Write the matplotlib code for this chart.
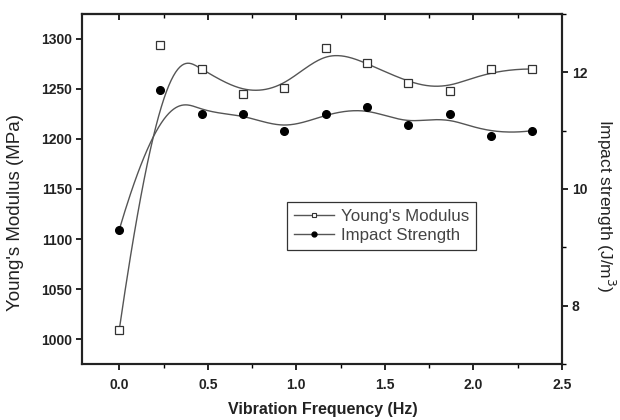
import numpy as np
import matplotlib
matplotlib.use("Agg")
import matplotlib.pyplot as plt
from matplotlib.lines import Line2D
from matplotlib.ticker import MultipleLocator

# ---- data ----
frequency = [0.0, 0.233, 0.467, 0.700, 0.933, 1.167, 1.400, 1.633, 1.867, 2.100, 2.333]
youngs_modulus = [1009, 1294, 1270, 1245, 1251, 1291, 1276, 1256, 1248, 1270, 1270]
impact_strength = [9.30, 11.69, 11.29, 11.29, 11.00, 11.29, 11.40, 11.09, 11.29, 10.91, 11.00]

x_ticks = [0.0, 0.5, 1.0, 1.5, 2.0, 2.5]
y_left_ticks = [1000, 1050, 1100, 1150, 1200, 1250, 1300]
y_right_ticks = [8, 10, 12]


def bspline_curve(xs, ys, k=3, num=500):
    """Clamped uniform B-spline using data points as control points (Origin 'B-Spline' connect)."""
    P = np.column_stack([xs, ys]).astype(float)
    n = len(P)
    inner = np.linspace(0.0, 1.0, n - k + 1)
    t = np.concatenate([np.zeros(k), inner, np.ones(k)])
    us = np.linspace(0.0, 1.0, num)
    out = []
    for u in us:
        if u >= 1.0:
            s = n - 1
        else:
            s = np.searchsorted(t, u, side='right') - 1
        d = [P[j + s - k].copy() for j in range(k + 1)]
        for r in range(1, k + 1):
            for j in range(k, r - 1, -1):
                i = j + s - k
                denom = t[i + k + 1 - r] - t[i]
                a = 0.0 if denom == 0 else (u - t[i]) / denom
                d[j] = (1 - a) * d[j - 1] + a * d[j]
        out.append(d[k])
    out = np.array(out)
    return out[:, 0], out[:, 1]


plt.rcParams['font.family'] = ['Liberation Sans', 'DejaVu Sans']

fig = plt.figure(figsize=(6.2, 4.2), dpi=100)
ax = fig.add_axes([0.1323, 0.1333, 0.7742, 0.8334])
ax2 = ax.twinx()

line_color = '#555555'
text_color = '#222222'

# Young's modulus (left axis)
cx, cy = bspline_curve(frequency, youngs_modulus)
ax.plot(cx, cy, color=line_color, lw=1.0, zorder=2)
ax.plot(frequency, youngs_modulus, ls='none', marker='s', ms=5.5, mfc='white',
        mec='#333333', mew=0.9, zorder=3)

# Impact strength (right axis)
cx2, cy2 = bspline_curve(frequency, impact_strength)
ax2.plot(cx2, cy2, color=line_color, lw=1.0, zorder=2)
ax2.plot(frequency, impact_strength, ls='none', marker='o', ms=5.5, mfc='black',
         mec='black', zorder=3)

ax.set_xlim(-0.21, 2.5)
ax.set_ylim(975, 1325)
ax2.set_ylim(7.0, 13.0)

ax.set_xticks(x_ticks)
ax.set_xticklabels([f"{v:.1f}" for v in x_ticks])
ax.xaxis.set_minor_locator(MultipleLocator(0.25))
ax.set_yticks(y_left_ticks)
ax.set_yticklabels([str(v) for v in y_left_ticks])
ax2.set_yticks(y_right_ticks)
ax2.set_yticklabels([str(v) for v in y_right_ticks])
ax2.yaxis.set_minor_locator(MultipleLocator(1))

for lab in ax.get_xticklabels() + ax.get_yticklabels() + ax2.get_yticklabels():
    lab.set_fontsize(10)
    lab.set_fontweight('bold')
    lab.set_color(text_color)

ax.tick_params(axis='x', which='major', direction='out', length=4, width=1.2, pad=6)
ax.tick_params(axis='x', which='minor', direction='out', length=3, width=1.0)
ax.tick_params(axis='y', which='major', direction='out', length=4, width=1.2, pad=3)
ax2.tick_params(axis='y', which='major', direction='out', length=4, width=1.2, pad=3)
ax2.tick_params(axis='y', which='minor', direction='out', length=3, width=1.0)

# top axis: inward ticks, no labels
top = ax.secondary_xaxis('top')
top.set_xticks(x_ticks)
top.xaxis.set_minor_locator(MultipleLocator(0.25))
top.tick_params(axis='x', which='major', direction='in', length=4, width=1.2, labeltop=False)
top.tick_params(axis='x', which='minor', direction='in', length=3, width=1.0)
top.spines['top'].set_linewidth(1.5)
top.spines['top'].set_color(text_color)

for a in (ax, ax2):
    for sp in a.spines.values():
        sp.set_linewidth(1.5)
        sp.set_color(text_color)

# axis titles placed at the reference positions
fig.text(0.521, 0.024, 'Vibration Frequency (Hz)', fontsize=11.5, fontweight='bold',
         color=text_color, ha='center', va='center')
fig.text(0.025, 0.493, "Young's Modulus (MPa)", fontsize=13.5, color=text_color,
         ha='center', va='center', rotation=90)
fig.text(0.977, 0.51, 'Impact strength (J/m$^3$)', fontsize=12.5, color=text_color,
         ha='center', va='center', rotation=270)

handles = [
    Line2D([], [], color=line_color, lw=1.0, marker='s', ms=3.5, mfc='white', mec='#333333', mew=0.8),
    Line2D([], [], color=line_color, lw=1.0, marker='o', ms=3.5, mfc='black', mec='black'),
]
leg = ax.legend(handles, ["Young's Modulus", 'Impact Strength'], loc='upper left',
                bbox_to_anchor=(0.427, 0.463), borderaxespad=0, fancybox=False,
                framealpha=1, edgecolor='#333333', fontsize=12.2, handlelength=2.4,
                handletextpad=0.4, labelspacing=0.25, borderpad=0.4)
leg.get_frame().set_linewidth(0.9)
for txt in leg.get_texts():
    txt.set_color('#444444')

fig.savefig('out.png', dpi=100)
